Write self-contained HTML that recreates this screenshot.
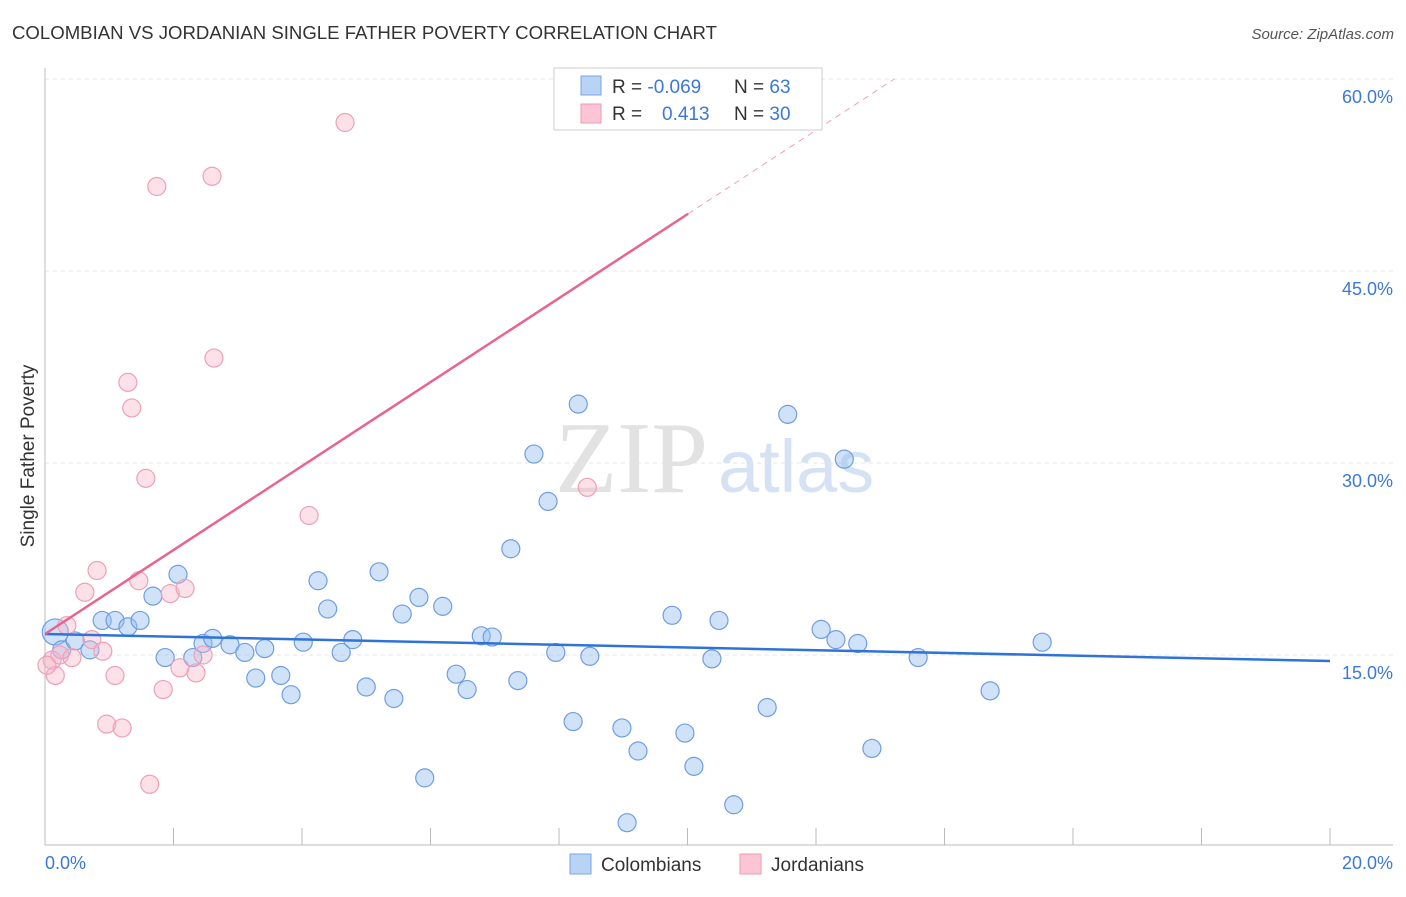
<!DOCTYPE html>
<html><head><meta charset="utf-8"><style>
body{margin:0;background:#fff;font-family:"Liberation Sans",sans-serif}
</style></head><body>
<svg width="1406" height="892" xmlns="http://www.w3.org/2000/svg">
<text x="12" y="39" font-size="18.6" fill="#333">COLOMBIAN VS JORDANIAN SINGLE FATHER POVERTY CORRELATION CHART</text>
<text x="1394" y="39" font-size="15" fill="#555" font-style="italic" text-anchor="end">Source: ZipAtlas.com</text>
<g>
<text x="555" y="492" font-size="102" fill="#e2e2e2" font-family="Liberation Serif,serif">ZIP</text>
<text x="718" y="492" font-size="74" fill="#d4e2f4">atlas</text>
</g>
<g id="grid"></g>
<line x1="45" y1="68" x2="45" y2="845" stroke="#bbb"/>
<line x1="45" y1="845" x2="1393" y2="845" stroke="#bbb"/>
<g id="xticks"></g>
<text x="28" y="456" font-size="19" fill="#333" transform="rotate(-90 28 456)" text-anchor="middle" dy="6">Single Father Poverty</text>
<text x="45" y="869" font-size="18" fill="#3b78d8">0.0%</text>
<text x="1393" y="869" font-size="18" fill="#3b78d8" text-anchor="end">20.0%</text>
<g id="points"></g>
<g id="trends"></g>
<g>
<rect x="554" y="68" width="268" height="62" fill="#fff" stroke="#ccc"/>
<rect x="581" y="76" width="20" height="19" fill="#b9d3f4" stroke="#7aa6e0"/>
<rect x="581" y="104" width="20" height="19" fill="#fbc5d5" stroke="#ee9ab4"/>
<text x="612" y="93" font-size="19" fill="#333">R = <tspan fill="#3b78d8">-0.069</tspan></text>
<text x="734" y="93" font-size="19" fill="#333">N = <tspan fill="#3b78d8">63</tspan></text>
<text x="612" y="120" font-size="19" fill="#333">R = <tspan fill="#3b78d8" x="662">0.413</tspan></text>
<text x="734" y="120" font-size="19" fill="#333">N = <tspan fill="#3b78d8">30</tspan></text>
</g>
<g>
<rect x="570" y="854" width="21" height="20" fill="#b9d3f4" stroke="#7aa6e0"/>
<text x="601" y="871" font-size="19" fill="#333">Colombians</text>
<rect x="740" y="854" width="21" height="20" fill="#fbc5d5" stroke="#ee9ab4"/>
<text x="771" y="871" font-size="19" fill="#333">Jordanians</text>
</g>
</svg>
<script>
const yTicks=[15,30,45,60];
const yTickLabels=["15.0%","30.0%","45.0%","60.0%"];
const xTicks=[2,4,6,8,10,12,14,16,18,20];
const blueX=[0.16,0.26,0.47,0.70,0.89,1.09,1.29,1.48,1.68,1.87,2.07,2.30,2.46,2.61,2.88,3.11,3.28,3.42,3.67,3.83,4.02,4.25,4.40,4.61,4.79,5.00,5.20,5.43,5.56,5.82,5.91,6.19,6.40,6.57,6.79,6.96,7.25,7.36,7.61,7.83,7.95,8.22,8.30,8.48,8.98,9.06,9.23,9.76,9.96,10.10,10.38,10.49,10.72,11.24,11.56,12.08,12.31,12.44,12.65,12.87,13.59,14.71,15.52];
const blueY=[16.8,15.4,16.1,15.4,17.7,17.7,17.2,17.7,19.6,14.8,21.3,14.8,15.9,16.3,15.8,15.2,13.2,15.5,13.4,11.9,16.0,20.8,18.6,15.2,16.2,12.5,21.5,11.6,18.2,19.5,5.4,18.8,13.5,12.3,16.5,16.4,23.3,13.0,30.7,27.0,15.2,9.8,34.6,14.9,9.3,1.9,7.5,18.1,8.9,6.3,14.7,17.7,3.3,10.9,33.8,17.0,16.2,30.3,15.9,7.7,14.8,12.2,16.0];
const pinkX=[0.16,0.11,0.23,0.34,0.42,0.62,0.73,0.81,0.90,0.96,1.09,1.20,1.29,1.35,1.46,1.57,1.63,1.74,1.84,1.95,2.10,2.18,2.35,2.46,2.60,2.63,4.11,4.67,8.44,0.03];
const pinkY=[13.4,14.6,15.0,17.3,14.8,19.9,16.2,21.6,15.3,9.6,13.4,9.3,36.3,34.3,20.8,28.8,4.9,51.6,12.3,19.8,14.0,20.2,13.6,15.0,52.4,38.2,25.9,56.6,28.1,14.2];
const blueTrend=[16.64,14.53];
const pinkTrend=[16.64,3.28];
const NS="http://www.w3.org/2000/svg";
const X=v=>45+v*64.25, Y=v=>847-v*12.8;
function mk(t,a,p){const e=document.createElementNS(NS,t);for(const k in a)e.setAttribute(k,a[k]);document.getElementById(p).appendChild(e);return e;}
yTicks.forEach((t,i)=>{
 const l=mk('line',{x1:45,x2:1393,y1:Y(t),y2:Y(t),stroke:'#e4e4e4','stroke-dasharray':'4,4'},'grid');
 
 
 const tx=mk('text',{x:1393,y:Y(t)+24,'font-size':18,fill:'#3b78d8','text-anchor':'end'},'grid');
 tx.textContent=yTickLabels[i];
 
 
});
xTicks.forEach(t=>{
 const l=mk('line',{x1:X(t),x2:X(t),y1:828,y2:845,stroke:'#bbb'},'xticks');
 
 
});
blueX.forEach((x,i)=>{
 const c=mk('circle',{cx:X(x),cy:Y(blueY[i]),r:i==0?13:9,fill:'rgba(150,190,240,0.45)',stroke:'#6f9ee0','stroke-width':1.2},'points');
 
 
});
pinkX.forEach((x,i)=>{
 const c=mk('circle',{cx:X(x),cy:Y(pinkY[i]),r:9,fill:'rgba(248,180,200,0.4)',stroke:'#eea0b8','stroke-width':1.2},'points');
 
 
});
const bl=mk('line',{x1:X(0),y1:Y(blueTrend[0]),x2:X(20),y2:Y(blueTrend[1]),stroke:'#2f73d9','stroke-width':2.5},'trends');


const pEnd=10.01, dEnd=(60-pinkTrend[0])/pinkTrend[1];
const pl=mk('line',{x1:X(0),y1:Y(pinkTrend[0]),x2:X(pEnd),y2:Y(pinkTrend[0]+pinkTrend[1]*pEnd),stroke:'#e8648f','stroke-width':2.5},'trends');


const pd=mk('line',{x1:X(pEnd),y1:Y(pinkTrend[0]+pinkTrend[1]*pEnd),x2:X(dEnd),y2:Y(60),stroke:'#eea0b8','stroke-width':1,'stroke-dasharray':'6,5'},'trends');


</script>
</body></html>
